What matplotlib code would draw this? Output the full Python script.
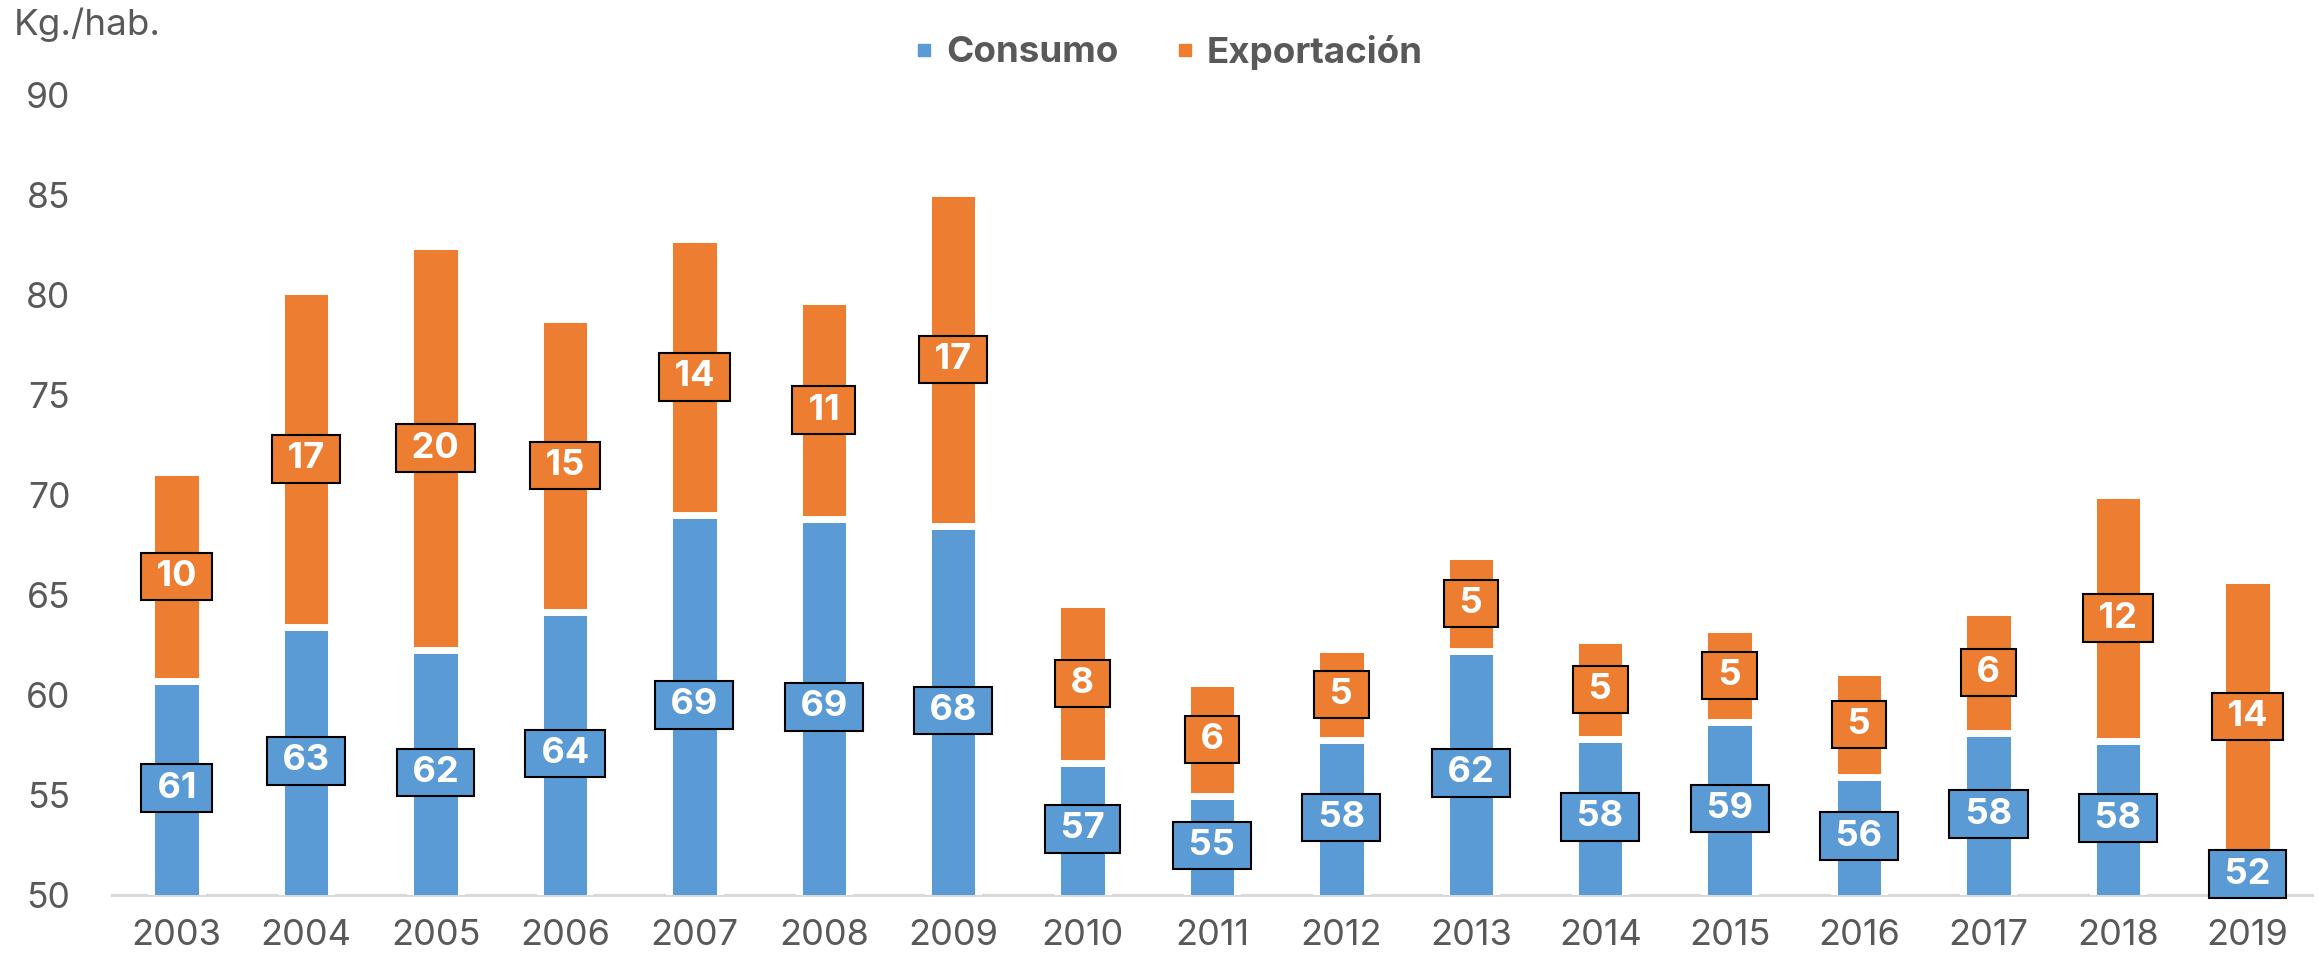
import matplotlib.pyplot as plt
from matplotlib.lines import Line2D
import numpy as np

plt.rcParams['font.family'] = ['Inter', 'DejaVu Sans']

# data (kg per inhabitant)
years = ['2003', '2004', '2005', '2006', '2007', '2008', '2009', '2010', '2011',
         '2012', '2013', '2014', '2015', '2016', '2017', '2018', '2019']
consumo = [60.7, 63.4, 62.25, 64.15, 69.0, 68.8, 68.45, 56.6, 54.95,
           57.75, 62.2, 57.8, 58.65, 55.9, 58.1, 57.7, 52.1]
exportacion = [10.45, 16.8, 20.2, 14.65, 13.8, 10.9, 16.65, 7.95, 5.65,
               4.55, 4.75, 4.95, 4.65, 5.25, 6.05, 12.3, 13.65]

blue = '#5B9BD5'
orange = '#ED7D31'
grey = '#595959'
ymin, ymax = 50, 90

fig = plt.figure(figsize=(23.18, 9.57), dpi=100)
ax = fig.add_axes([112/2318, 62/957, 2200/2318, 800/957])

x = np.arange(len(years))
cons = np.array(consumo)
expo = np.array(exportacion)

ax.bar(x, cons, width=0.39, color=blue, edgecolor='white', linewidth=5, zorder=2)
ax.bar(x, expo, width=0.39, bottom=cons, color=orange, edgecolor='white', linewidth=5, zorder=2)

def put_label(xi, lo, hi, val, col):
    # centre of the visible part of the segment
    yc = (max(lo, ymin) + hi) / 2
    ax.text(xi, yc, ' %.0f ' % val, ha='center', va='center', color='white',
            fontsize=26, fontweight='bold', zorder=5, clip_on=False,
            bbox=dict(boxstyle='square,pad=0.2', fc=col, ec='black', lw=1.5))

for i in range(len(years)):
    put_label(x[i], 0, cons[i], cons[i], blue)
    put_label(x[i], cons[i], cons[i] + expo[i], expo[i], orange)

ax.set_xlim(-0.5, len(years) - 0.5)
ax.set_ylim(ymin, ymax)
ax.set_yticks(range(50, 91, 5))
ax.set_xticks(x)
ax.set_xticklabels(years)
ax.tick_params(axis='y', length=0, pad=30, labelsize=25.5, labelcolor=grey)
ax.tick_params(axis='x', length=0, pad=17, labelsize=26, labelcolor=grey)

for s in ['top', 'right', 'left']:
    ax.spines[s].set_visible(False)
ax.spines['bottom'].set_color('#D9D9D9')
ax.spines['bottom'].set_linewidth(2.2)
ax.spines['bottom'].set_zorder(1)

fig.text(14/2318, 1 - 25/957, 'Kg./hab.', fontsize=26.5, color=grey, va='center', ha='left')

handles = [Line2D([], [], marker='s', ls='none', color=blue, markersize=8),
           Line2D([], [], marker='s', ls='none', color=orange, markersize=8)]
leg = fig.legend(handles, ['Consumo', 'Exportación'], loc='center',
                 bbox_to_anchor=(1168/2318, 1 - 52/957), ncol=2, frameon=False,
                 handlelength=0.6, handletextpad=0.3, columnspacing=1.5,
                 prop={'size': 26.5, 'weight': 'bold'})
for t in leg.get_texts():
    t.set_color(grey)

fig.savefig('out.png', dpi=100, facecolor='white')
